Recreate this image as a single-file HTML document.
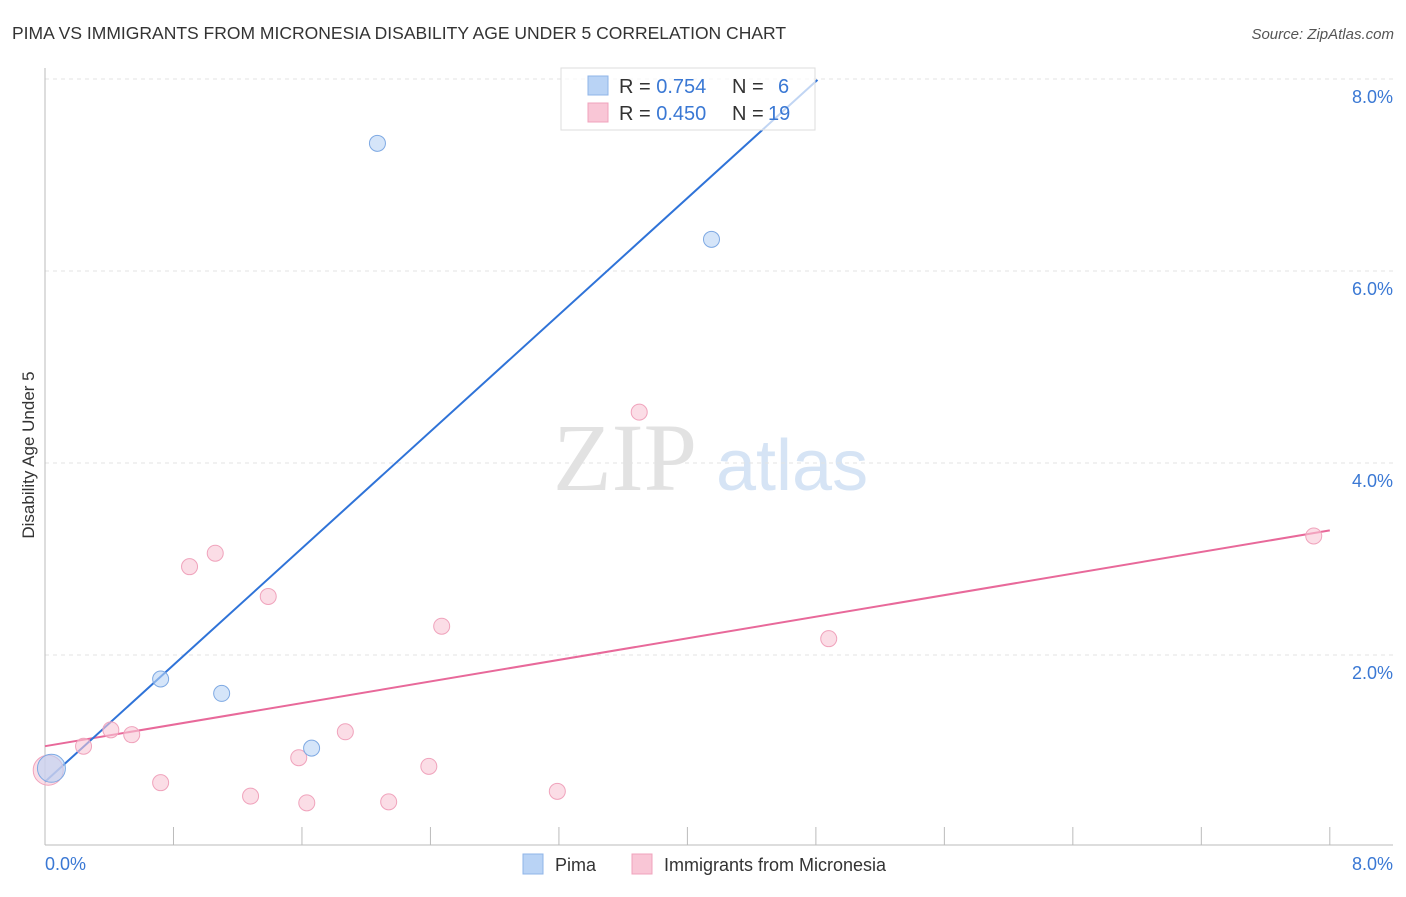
<!DOCTYPE html>
<html><head><meta charset="utf-8"><style>
body{margin:0;background:#fff;font-family:"Liberation Sans",sans-serif;}
</style></head><body>
<svg id="chart" width="1406" height="892" xmlns="http://www.w3.org/2000/svg">
<text x="12" y="39" font-size="17.5" fill="#333">PIMA VS IMMIGRANTS FROM MICRONESIA DISABILITY AGE UNDER 5 CORRELATION CHART</text>
<text x="1394" y="39" font-size="15" fill="#555" font-style="italic" text-anchor="end">Source: ZipAtlas.com</text>
<text x="34" y="455" font-size="17" fill="#333" text-anchor="middle" transform="rotate(-90 34 455)">Disability Age Under 5</text>
<g><text x="553" y="490" font-size="96" fill="#e2e2e2" font-family="Liberation Serif,serif">ZIP</text><text x="716" y="490" font-size="72" fill="#d6e4f5">atlas</text></g>
<g id="grid"></g><g id="ticks"></g><g id="lines"></g><g id="pts"></g>
<g>
<rect x="561" y="68" width="254" height="62" fill="#fff" fill-opacity="0.7" stroke="#ddd"/>
<rect x="588" y="76" width="20" height="19" fill="#b9d3f5" stroke="#8fb5e8"/>
<rect x="588" y="103" width="20" height="19" fill="#f9c6d6" stroke="#f0a3bc"/>
<text x="619" y="93" font-size="20" fill="#333">R = <tspan fill="#3a78d4">0.754</tspan></text>
<text x="732" y="93" font-size="20" fill="#333">N = </text><text x="778" y="93" font-size="20" fill="#3a78d4">6</text>
<text x="619" y="120" font-size="20" fill="#333">R = <tspan fill="#3a78d4">0.450</tspan></text>
<text x="732" y="120" font-size="20" fill="#333">N = </text><text x="768" y="120" font-size="20" fill="#3a78d4">19</text>
</g>
<g>
<rect x="523" y="854" width="20" height="20" fill="#b9d3f5" stroke="#8fb5e8"/>
<text x="555" y="871" font-size="18" fill="#333">Pima</text>
<rect x="632" y="854" width="20" height="20" fill="#f9c6d6" stroke="#f0a3bc"/>
<text x="664" y="871" font-size="18" fill="#333">Immigrants from Micronesia</text>
</g>
</svg>
<script>
const pimaX=[2.07,4.15,0.72,1.10,1.66,0.04];
const pimaY=[7.33,6.33,1.75,1.60,1.03,0.82];
const micX=[7.90,3.70,4.88,2.47,1.06,0.90,1.39,0.41,0.54,0.24,1.87,1.58,2.39,0.72,1.28,1.63,2.14,3.19,0.02];
const micY=[3.24,4.53,2.17,2.30,3.06,2.92,2.61,1.22,1.17,1.05,1.20,0.93,0.84,0.67,0.53,0.46,0.47,0.58,0.80];
const pimaTrend=[0.68,1.52,4.81]; // intercept, slope, end x
const micTrend=[1.05,0.281,8.0];
const yTicks=[2,4,6,8];
const xTickLabels=["0.0%","8.0%"];
const X=v=>45+v*160.6, Y=v=>847-v*96;
const NS="http://www.w3.org/2000/svg";
function mk(p,t,a){const e=document.createElementNS(NS,t);for(const k in a)e.setAttribute(k,a[k]);document.getElementById(p).appendChild(e);return e;}
yTicks.forEach(t=>{
 const l=mk('grid','line',{x1:45,x2:1393,y1:Y(t),y2:Y(t),stroke:'#e3e3e3','stroke-dasharray':'4,4'});
 
 
 const tx=mk('grid','text',{x:1393,y:Y(t)+24,'font-size':18,fill:'#3a78d4','text-anchor':'end'});
 tx.textContent=t.toFixed(1)+'%';
 
 
});
const ax=mk('ticks','line',{x1:45,x2:1393,y1:845,y2:845,stroke:'#bbb'});


const ay=mk('ticks','line',{x1:45,x2:45,y1:68,y2:845,stroke:'#bbb'});


for(let i=0;i<=10;i++){const x=X(i*0.8);
 const t=mk('ticks','line',{x1:x,x2:x,y1:827,y2:845,stroke:'#bbb'});
 
 }
[[0,'start',45],[8,'end',1393]].forEach((d,i)=>{
 const t=mk('ticks','text',{x:d[2],y:870,'font-size':18,fill:'#3a78d4','text-anchor':d[1]});
 t.textContent=xTickLabels[i];
 
 });
function trend(tr,c,n){const l=mk('lines','line',{x1:X(0),y1:Y(tr[0]),x2:X(tr[2]),y2:Y(tr[0]+tr[1]*tr[2]),stroke:c,'stroke-width':2});
 
 }
trend(micTrend,'#e8699a','micronesia-trendline');
trend(pimaTrend,'#2f73d8','pima-trendline');
micX.forEach((x,i)=>{const r=i==micX.length-1?15:8;
 const c=mk('pts','circle',{cx:X(x),cy:Y(micY[i]),r:r,fill:'#f9c6d6','fill-opacity':0.6,stroke:'#f0a3bc'});
 
 });
pimaX.forEach((x,i)=>{const r=i==pimaX.length-1?14:8;
 const c=mk('pts','circle',{cx:X(x),cy:Y(pimaY[i]),r:r,fill:'#b9d3f5','fill-opacity':0.6,stroke:'#7ea9e3'});
 
 });
</script>
</body></html>
